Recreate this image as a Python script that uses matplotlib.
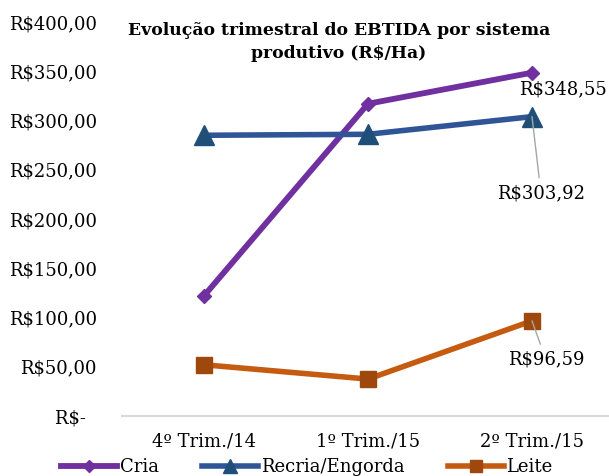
import matplotlib
matplotlib.use("Agg")
import matplotlib.pyplot as plt

categories = ["4º Trim./14", "1º Trim./15", "2º Trim./15"]
cria = [122.0, 317.0, 348.55]
recria = [285.0, 286.0, 303.92]
leite = [52.0, 37.5, 96.59]
yticks = [0, 50, 100, 150, 200, 250, 300, 350, 400]
ytick_labels = ["R$-  ", "R$50,00", "R$100,00", "R$150,00", "R$200,00",
                "R$250,00", "R$300,00", "R$350,00", "R$400,00"]
title = "Evolução trimestral do EBTIDA por sistema\nprodutivo (R$/Ha)"

FAM = ['DejaVu Serif']
plt.rcParams['font.family'] = FAM
FS = 13

fig = plt.figure(figsize=(6.09, 4.76), dpi=100)
ax = fig.add_axes([122/609, 60/476, 492/609, 394/476])
x = list(range(len(categories)))

ax.plot(x, cria, color="#7030A0", lw=4.2, marker="D", ms=7.5,
        mfc="#7030A0", mec="#7030A0", label="Cria", zorder=3)
ax.plot(x, recria, color="#2F5597", lw=4, marker="^", ms=14,
        mfc="#1F4E79", mec="#1F4E79", label="Recria/Engorda", zorder=3)
ax.plot(x, leite, color="#C55A11", lw=4, marker="s", ms=11,
        mfc="#9E480E", mec="#9E480E", label="Leite", zorder=3)

ax.set_xlim(-0.5, 2.5)
ax.set_ylim(0, 400)
ax.set_yticks(yticks)
ax.set_yticklabels(ytick_labels, fontsize=FS, family=FAM)
ax.set_xticks(x)
ax.set_xticklabels(categories, fontsize=FS, family=FAM)
ax.tick_params(axis='both', length=0)
ax.tick_params(axis='y', pad=18)
ax.tick_params(axis='x', pad=12)
for s in ["top", "right", "left"]:
    ax.spines[s].set_visible(False)
ax.spines["bottom"].set_color("#D9D9D9")
ax.spines["bottom"].set_linewidth(1.5)

fig.text(339/609, 1 - 42/476, title, ha="center", va="center", family=FAM,
         fontsize=12.4, fontweight="bold", linespacing=1.45)

def fmt(v):
    return "R$" + f"{v:.2f}".replace(".", ",")

ax.annotate(fmt(cria[2]), xy=(2, cria[2]), xytext=(31, -17), family=FAM,
            textcoords="offset pixels", ha="center", va="center", fontsize=FS)
ax.annotate(fmt(recria[2]), xy=(2, recria[2]), xytext=(9, -77), family=FAM,
            textcoords="offset pixels", ha="center", va="center", fontsize=FS,
            arrowprops=dict(arrowstyle="-", color="#A6A6A6", lw=1,
                            shrinkA=3, shrinkB=0))
ax.annotate(fmt(leite[2]), xy=(2, leite[2]), xytext=(14, -39), family=FAM,
            textcoords="offset pixels", ha="center", va="center", fontsize=FS,
            arrowprops=dict(arrowstyle="-", color="#A6A6A6", lw=1,
                            shrinkA=3, shrinkB=0))

leg = fig.legend(loc="center", bbox_to_anchor=(307/609, 1 - 467/476), ncol=3,
                 frameon=False, prop={'family': FAM, 'size': FS},
                 handlelength=3.1, handletextpad=0.15, columnspacing=2.4,
                 markerscale=0.75, borderaxespad=0, borderpad=0)

fig.savefig("out.png", dpi=100)
